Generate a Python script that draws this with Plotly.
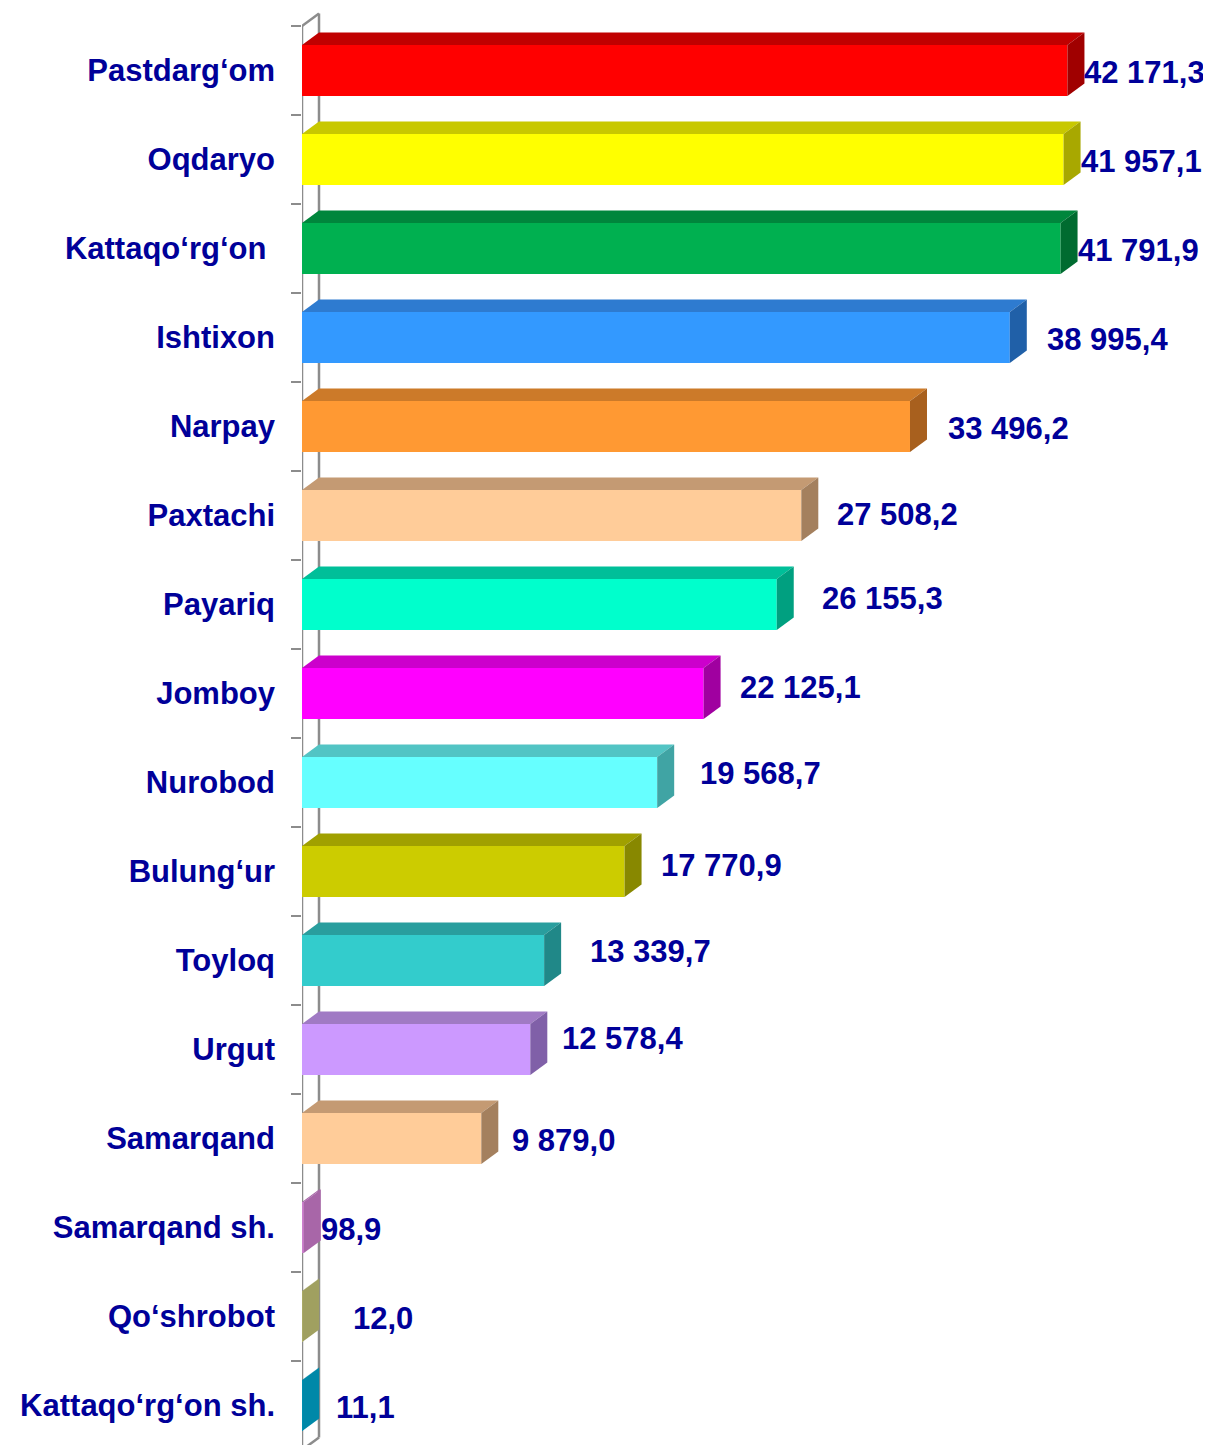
import plotly.graph_objects as go

# ---------------- data ----------------
districts = [
    "Pastdarg‘om", "Oqdaryo", "Kattaqo‘rg‘on\u00a0", "Ishtixon", "Narpay",
    "Paxtachi", "Payariq", "Jomboy", "Nurobod", "Bulung‘ur", "Toyloq",
    "Urgut", "Samarqand", "Samarqand sh.", "Qo‘shrobot", "Kattaqo‘rg‘on sh.",
]
values = [
    42171.3, 41957.1, 41791.9, 38995.4, 33496.2, 27508.2, 26155.3, 22125.1,
    19568.7, 17770.9, 13339.7, 12578.4, 9879.0, 98.9, 12.0, 11.1,
]
value_labels = [
    "42 171,3", "41 957,1", "41 791,9", "38 995,4", "33 496,2", "27 508,2",
    "26 155,3", "22 125,1", "19 568,7", "17 770,9", "13 339,7", "12 578,4",
    "9 879,0", "98,9", "12,0", "11,1",
]

# ---------------- styles ----------------
front_colors = ["#FF0000", "#FFFF00", "#00B050", "#3399FF", "#FF9933", "#FFCC99",
                "#00FFCC", "#FF00FF", "#66FFFF", "#CCCC00", "#33CCCC", "#CC99FF",
                "#FFCC99", "#CC80CC", "#CCCC80", "#00AACC"]
top_colors = ["#C00000", "#C8C800", "#00863C", "#2E7BD0", "#CC7A29", "#C49A73",
              "#00BF99", "#CC00CC", "#52C4C4", "#A0A000", "#299E9E", "#A07AC4",
              "#C49A73", "#A866A8", "#A3A366", "#0088A8"]
side_colors = ["#A00000", "#A8A800", "#006B30", "#2060A8", "#A8601E", "#A4805E",
               "#00A080", "#A000A0", "#40A4A4", "#888800", "#208888", "#8060A8",
               "#A4805E", "#A866A8", "#A0A060", "#0088A8"]
# per-label nudges (pixels): gap after bar, vertical shift (down positive)
label_gap = [0, 0, 0, 20, 21, 19, 28, 19, 26, 19, 29, 15, 14, 0, 34, 17]
label_dy = [1.5, 1.5, 1.5, 1.5, 1.5, -1.5, -6.5, -6.5, -9.5, -6.5, -9.5, -11.5, 1.5, 1.5, 1.5, 1.5]

TEXT = "#000099"
FONT = "Liberation Sans, Arial, sans-serif"
FS = 31

PAGE_OFFSET = 8        # default body margin of the page
X_MAX = 50080          # x range -> 909 px
PX_PER_UNIT = 909 / X_MAX
DX = 17 / PX_PER_UNIT  # depth in x units
PX_PER_CAT = 89
DY = 12.5 / PX_PER_CAT # depth in category units
HALF = 0.2865          # half bar thickness
Y_TOP = -(70.5 - 8) / PX_PER_CAT
Y_BOTTOM = (1445 - 70.5) / PX_PER_CAT

n = len(values)
idx = list(range(n))

fig = go.Figure()

# front faces
fig.add_trace(go.Bar(
    x=values, y=idx, orientation="h", width=2 * HALF,
    marker=dict(color=front_colors, line=dict(width=0)),
    hoverinfo="skip", showlegend=False,
))

# top and side faces
for i, v in enumerate(values):
    yt = i - HALF
    yb = i + HALF
    fig.add_trace(go.Scatter(
        x=[0, v, v + DX, DX, 0], y=[yt, yt, yt - DY, yt - DY, yt],
        mode="lines", fill="toself", fillcolor=top_colors[i],
        line=dict(width=0, color=top_colors[i]), hoverinfo="skip", showlegend=False,
    ))
    fig.add_trace(go.Scatter(
        x=[v, v + DX, v + DX, v, v], y=[yt, yt - DY, yb - DY, yb, yt],
        mode="lines", fill="toself", fillcolor=side_colors[i],
        line=dict(width=0, color=side_colors[i]), hoverinfo="skip", showlegend=False,
    ))

# wall (behind bars)
wall_top = -0.5
wall_bot = n - 0.5
wall_color = "#8C8C8C"
shapes = []
for (x0, y0, x1, y1) in [
    (0, wall_top, 0, wall_bot),
    (DX, wall_top - DY, DX, wall_bot - DY),
    (0, wall_top, DX, wall_top - DY),
    (0, wall_bot, DX, wall_bot - DY),
]:
    shapes.append(dict(type="line", xref="x", yref="y", x0=x0, y0=y0, x1=x1, y1=y1,
                       line=dict(color=wall_color, width=2.5), layer="below"))

annotations = []
for i, v in enumerate(values):
    annotations.append(dict(
        x=v + DX, y=i, xref="x", yref="y", text=f"<b>{value_labels[i]}</b>",
        showarrow=False, xanchor="left", yanchor="middle",
        xshift=label_gap[i] - 2, yshift=-label_dy[i],
        font=dict(family=FONT, size=FS, color=TEXT),
    ))

fig.update_layout(
    width=1211 - PAGE_OFFSET, height=1445 - PAGE_OFFSET,
    margin=dict(l=302 - PAGE_OFFSET, r=0, t=8 - PAGE_OFFSET, b=0, pad=0),
    paper_bgcolor="white", plot_bgcolor="white",
    showlegend=False,
    shapes=shapes, annotations=annotations,
    xaxis=dict(range=[0, X_MAX], visible=False, showgrid=False, zeroline=False),
    yaxis=dict(
        range=[Y_BOTTOM, Y_TOP],
        tickmode="array", tickvals=idx,
        ticktext=[f"<b>{d}</b>" for d in districts],
        ticks="", showgrid=False, zeroline=False, showline=False,
        ticklabelstandoff=26,
        tickfont=dict(family=FONT, size=FS, color=TEXT),
        minor=dict(tickmode="array", tickvals=[k - 0.5 for k in range(n + 1)],
                   ticks="outside", ticklen=10, tickwidth=2, tickcolor=wall_color,
                   showgrid=False),
    ),
)

fig.write_html("out.html")
